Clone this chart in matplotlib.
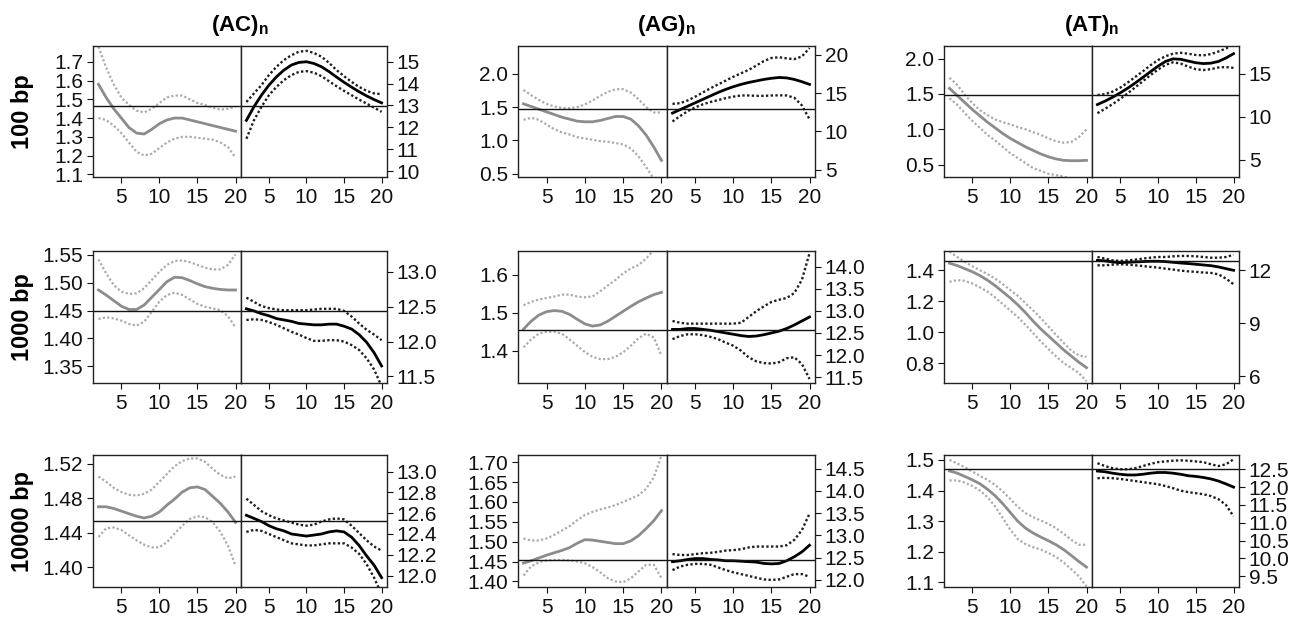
"""
Smoothed effects of repeat length on two responses, 3x3 grid of split panels
"""

import numpy as np
import matplotlib.pyplot as plt

plt.rcParams["font.family"] = ["Liberation Sans", "DejaVu Sans"]
plt.rcParams["mathtext.fontset"] = "custom"
plt.rcParams["mathtext.bf"] = "Liberation Sans:bold"

# repeat length (x axis of both halves)
x = np.arange(2, 21)

motifs = ["AC", "AG", "AT"]
windows = ["100 bp", "1000 bp", "10000 bp"]

# ---------------- (AC)n, 100 bp ----------------
ac100_gray_mid = [1.58, 1.51, 1.45, 1.40, 1.35, 1.32, 1.315, 1.34, 1.37, 1.39, 1.40, 1.40, 1.39, 1.38, 1.37, 1.36, 1.35, 1.34, 1.33]
ac100_gray_hi = [1.78, 1.67, 1.58, 1.51, 1.47, 1.44, 1.43, 1.45, 1.48, 1.51, 1.52, 1.52, 1.50, 1.48, 1.47, 1.455, 1.445, 1.45, 1.46]
ac100_gray_lo = [1.40, 1.39, 1.36, 1.32, 1.27, 1.22, 1.20, 1.21, 1.24, 1.27, 1.29, 1.30, 1.30, 1.295, 1.29, 1.285, 1.27, 1.245, 1.19]
ac100_black_mid = [12.32, 12.94, 13.47, 13.93, 14.31, 14.62, 14.85, 14.97, 15.0, 14.92, 14.77, 14.55, 14.30, 14.06, 13.84, 13.63, 13.44, 13.27, 13.12]
ac100_black_hi = [13.16, 13.55, 13.93, 14.39, 14.77, 15.08, 15.3, 15.46, 15.5, 15.4, 15.23, 14.95, 14.62, 14.34, 14.08, 13.85, 13.67, 13.55, 13.52]
ac100_black_lo = [11.48, 12.32, 12.94, 13.47, 13.85, 14.16, 14.39, 14.54, 14.57, 14.5, 14.34, 14.11, 13.88, 13.67, 13.47, 13.27, 13.09, 12.9, 12.71]

# ---------------- (AG)n, 100 bp ----------------
ag100_gray_mid = [1.55, 1.51, 1.47, 1.43, 1.39, 1.35, 1.32, 1.29, 1.28, 1.28, 1.30, 1.33, 1.36, 1.36, 1.32, 1.22, 1.08, 0.90, 0.70]
ag100_gray_hi = [1.76, 1.68, 1.61, 1.55, 1.51, 1.49, 1.485, 1.50, 1.54, 1.60, 1.67, 1.73, 1.77, 1.77, 1.72, 1.62, 1.50, 1.42, 1.42]
ag100_gray_lo = [1.31, 1.34, 1.31, 1.24, 1.17, 1.12, 1.09, 1.05, 1.03, 1.01, 0.99, 0.98, 0.96, 0.94, 0.88, 0.76, 0.60, 0.42, 0.20]
ag100_black_mid = [12.4, 12.85, 13.3, 13.75, 14.2, 14.65, 15.1, 15.5, 15.85, 16.15, 16.4, 16.6, 16.8, 16.95, 17.05, 17.0, 16.8, 16.5, 16.15]
ag100_black_hi = [13.6, 13.7, 14.05, 14.55, 15.1, 15.65, 16.15, 16.65, 17.15, 17.6, 18.05, 18.6, 19.2, 19.6, 19.7, 19.55, 19.45, 19.8, 20.9]
ag100_black_lo = [11.3, 12.0, 12.65, 13.15, 13.55, 13.85, 14.1, 14.35, 14.55, 14.7, 14.7, 14.65, 14.65, 14.7, 14.72, 14.7, 14.4, 13.4, 11.6]

# ---------------- (AT)n, 100 bp ----------------
at100_gray_mid = [1.58, 1.48, 1.38, 1.28, 1.19, 1.10, 1.02, 0.94, 0.87, 0.81, 0.75, 0.70, 0.65, 0.61, 0.58, 0.56, 0.555, 0.555, 0.56]
at100_gray_hi = [1.73, 1.63, 1.49, 1.37, 1.27, 1.20, 1.14, 1.10, 1.07, 1.03, 1.00, 0.96, 0.92, 0.87, 0.83, 0.81, 0.82, 0.89, 1.00]
at100_gray_lo = [1.44, 1.35, 1.23, 1.12, 1.02, 0.92, 0.84, 0.75, 0.66, 0.59, 0.52, 0.45, 0.41, 0.37, 0.35, 0.33, 0.30, 0.28, 0.26]
at100_black_mid = [11.4, 11.8, 12.25, 12.75, 13.3, 13.9, 14.55, 15.2, 15.85, 16.4, 16.7, 16.65, 16.45, 16.25, 16.15, 16.2, 16.4, 16.8, 17.3]
at100_black_hi = [12.5, 12.6, 12.9, 13.35, 13.95, 14.6, 15.25, 15.95, 16.55, 17.0, 17.3, 17.4, 17.3, 17.15, 17.1, 17.25, 17.55, 17.9, 18.4]
at100_black_lo = [10.4, 10.9, 11.45, 12.05, 12.7, 13.4, 14.1, 14.8, 15.45, 16.0, 16.3, 16.15, 15.8, 15.5, 15.4, 15.5, 15.7, 15.75, 15.65]

# ---------------- (AC)n, 1000 bp ----------------
ac1k_gray_mid = [1.487, 1.478, 1.468, 1.458, 1.452, 1.452, 1.460, 1.474, 1.488, 1.502, 1.510, 1.509, 1.504, 1.498, 1.493, 1.490, 1.488, 1.487, 1.487]
ac1k_gray_hi = [1.542, 1.517, 1.496, 1.484, 1.480, 1.481, 1.490, 1.505, 1.520, 1.532, 1.539, 1.540, 1.537, 1.532, 1.527, 1.524, 1.524, 1.532, 1.551]
ac1k_gray_lo = [1.435, 1.438, 1.436, 1.432, 1.426, 1.423, 1.430, 1.448, 1.466, 1.478, 1.482, 1.478, 1.470, 1.462, 1.457, 1.454, 1.451, 1.440, 1.420]
ac1k_black_mid = [12.47, 12.44, 12.40, 12.37, 12.33, 12.31, 12.29, 12.26, 12.25, 12.24, 12.24, 12.25, 12.25, 12.22, 12.18, 12.10, 11.99, 11.84, 11.65]
ac1k_black_hi = [12.63, 12.57, 12.51, 12.48, 12.46, 12.45, 12.45, 12.45, 12.45, 12.46, 12.47, 12.47, 12.47, 12.44, 12.36, 12.26, 12.17, 12.10, 12.02]
ac1k_black_lo = [12.31, 12.32, 12.31, 12.28, 12.24, 12.19, 12.14, 12.10, 12.05, 12.01, 12.01, 12.02, 12.02, 12.00, 11.95, 11.88, 11.76, 11.60, 11.36]

# ---------------- (AG)n, 1000 bp ----------------
ag1k_gray_mid = [1.457, 1.478, 1.494, 1.503, 1.506, 1.504, 1.496, 1.483, 1.471, 1.465, 1.468, 1.478, 1.491, 1.504, 1.517, 1.529, 1.539, 1.548, 1.554]
ag1k_gray_hi = [1.520, 1.529, 1.535, 1.539, 1.543, 1.548, 1.548, 1.543, 1.541, 1.543, 1.557, 1.572, 1.587, 1.604, 1.617, 1.626, 1.643, 1.665, 1.687]
ag1k_gray_lo = [1.409, 1.430, 1.445, 1.450, 1.450, 1.445, 1.430, 1.413, 1.397, 1.384, 1.378, 1.378, 1.384, 1.396, 1.413, 1.433, 1.445, 1.435, 1.387]
ag1k_black_mid = [12.58, 12.58, 12.60, 12.60, 12.58, 12.56, 12.53, 12.50, 12.47, 12.44, 12.42, 12.43, 12.46, 12.50, 12.54, 12.60, 12.68, 12.77, 12.86]
ag1k_black_hi = [12.77, 12.73, 12.71, 12.71, 12.71, 12.71, 12.71, 12.71, 12.71, 12.73, 12.86, 12.99, 13.10, 13.20, 13.25, 13.29, 13.40, 13.70, 14.30]
ag1k_black_lo = [12.36, 12.43, 12.47, 12.47, 12.45, 12.41, 12.36, 12.28, 12.21, 12.10, 11.95, 11.86, 11.82, 11.81, 11.84, 11.93, 11.95, 11.80, 11.46]

# ---------------- (AT)n, 1000 bp ----------------
at1k_gray_mid = [1.445, 1.43, 1.41, 1.39, 1.365, 1.335, 1.30, 1.26, 1.22, 1.175, 1.125, 1.07, 1.02, 0.975, 0.93, 0.885, 0.845, 0.805, 0.77]
at1k_gray_hi = [1.52, 1.486, 1.454, 1.426, 1.40, 1.374, 1.346, 1.31, 1.271, 1.233, 1.186, 1.139, 1.09, 1.036, 0.982, 0.93, 0.88, 0.85, 0.84]
at1k_gray_lo = [1.325, 1.336, 1.331, 1.314, 1.289, 1.261, 1.224, 1.181, 1.139, 1.096, 1.046, 0.993, 0.939, 0.89, 0.843, 0.80, 0.768, 0.736, 0.682]
at1k_black_mid = [12.56, 12.53, 12.47, 12.43, 12.45, 12.47, 12.49, 12.51, 12.51, 12.49, 12.45, 12.41, 12.38, 12.34, 12.30, 12.26, 12.19, 12.09, 12.00]
at1k_black_hi = [12.75, 12.66, 12.56, 12.53, 12.56, 12.60, 12.66, 12.71, 12.75, 12.75, 12.79, 12.81, 12.81, 12.79, 12.75, 12.71, 12.71, 12.75, 12.88]
at1k_black_lo = [12.28, 12.28, 12.32, 12.34, 12.32, 12.28, 12.24, 12.19, 12.15, 12.09, 12.04, 11.98, 11.94, 11.91, 11.87, 11.85, 11.77, 11.53, 11.21]

# ---------------- (AC)n, 10000 bp ----------------
ac10k_gray_mid = [1.470, 1.470, 1.468, 1.465, 1.462, 1.459, 1.457, 1.459, 1.464, 1.472, 1.479, 1.487, 1.492, 1.493, 1.490, 1.482, 1.474, 1.464, 1.452]
ac10k_gray_hi = [1.505, 1.499, 1.492, 1.487, 1.484, 1.483, 1.485, 1.490, 1.499, 1.508, 1.517, 1.523, 1.526, 1.526, 1.522, 1.514, 1.507, 1.503, 1.505]
ac10k_gray_lo = [1.435, 1.445, 1.446, 1.443, 1.437, 1.431, 1.426, 1.423, 1.423, 1.429, 1.439, 1.448, 1.456, 1.459, 1.458, 1.452, 1.441, 1.425, 1.402]
ac10k_black_mid = [12.58, 12.55, 12.52, 12.48, 12.45, 12.43, 12.40, 12.39, 12.38, 12.39, 12.40, 12.42, 12.43, 12.42, 12.37, 12.29, 12.19, 12.10, 11.98]
ac10k_black_hi = [12.74, 12.68, 12.62, 12.58, 12.55, 12.53, 12.51, 12.49, 12.48, 12.49, 12.52, 12.54, 12.55, 12.54, 12.48, 12.41, 12.34, 12.28, 12.24]
ac10k_black_lo = [12.42, 12.44, 12.43, 12.40, 12.37, 12.34, 12.31, 12.30, 12.29, 12.29, 12.30, 12.31, 12.31, 12.31, 12.27, 12.21, 12.11, 11.98, 11.82]

# ---------------- (AG)n, 10000 bp ----------------
ag10k_gray_mid = [1.446, 1.452, 1.459, 1.466, 1.472, 1.478, 1.485, 1.496, 1.505, 1.504, 1.501, 1.498, 1.495, 1.495, 1.502, 1.515, 1.533, 1.553, 1.578]
ag10k_gray_hi = [1.508, 1.503, 1.503, 1.508, 1.517, 1.528, 1.539, 1.554, 1.567, 1.575, 1.581, 1.586, 1.592, 1.600, 1.608, 1.617, 1.633, 1.662, 1.717]
ag10k_gray_lo = [1.415, 1.438, 1.448, 1.453, 1.454, 1.454, 1.453, 1.450, 1.446, 1.436, 1.423, 1.408, 1.400, 1.398, 1.408, 1.425, 1.442, 1.442, 1.408]
ag10k_black_mid = [12.41, 12.43, 12.46, 12.48, 12.48, 12.46, 12.45, 12.43, 12.43, 12.42, 12.41, 12.40, 12.37, 12.36, 12.37, 12.43, 12.52, 12.63, 12.78]
ag10k_black_hi = [12.58, 12.56, 12.56, 12.58, 12.60, 12.61, 12.63, 12.66, 12.67, 12.69, 12.73, 12.75, 12.75, 12.75, 12.75, 12.78, 12.90, 13.12, 13.49]
ag10k_black_lo = [12.22, 12.30, 12.34, 12.36, 12.36, 12.34, 12.28, 12.22, 12.17, 12.13, 12.09, 12.05, 12.01, 12.00, 12.01, 12.07, 12.13, 12.13, 12.07]

# ---------------- (AT)n, 10000 bp ----------------
at10k_gray_mid = [1.464, 1.457, 1.446, 1.435, 1.422, 1.404, 1.383, 1.357, 1.328, 1.299, 1.277, 1.261, 1.248, 1.236, 1.223, 1.207, 1.188, 1.168, 1.150]
at10k_gray_hi = [1.500, 1.489, 1.476, 1.462, 1.448, 1.435, 1.418, 1.397, 1.372, 1.346, 1.326, 1.313, 1.302, 1.291, 1.277, 1.259, 1.239, 1.223, 1.223]
at10k_gray_lo = [1.433, 1.433, 1.426, 1.415, 1.400, 1.378, 1.348, 1.310, 1.272, 1.241, 1.225, 1.215, 1.207, 1.196, 1.183, 1.165, 1.143, 1.120, 1.087]
at10k_black_mid = [12.45, 12.43, 12.39, 12.36, 12.34, 12.34, 12.36, 12.39, 12.41, 12.41, 12.39, 12.36, 12.32, 12.30, 12.27, 12.23, 12.17, 12.09, 12.00]
at10k_black_hi = [12.67, 12.59, 12.53, 12.50, 12.50, 12.53, 12.59, 12.65, 12.70, 12.72, 12.74, 12.75, 12.74, 12.72, 12.70, 12.64, 12.59, 12.64, 12.78]
at10k_black_lo = [12.25, 12.26, 12.25, 12.23, 12.20, 12.17, 12.14, 12.11, 12.08, 12.03, 11.97, 11.90, 11.86, 11.83, 11.80, 11.75, 11.66, 11.50, 11.18]

# reference level (left-axis units) drawn across each panel
ref_levels = [
    [1.463, 1.47, 1.48],
    [1.45, 1.455, 1.458],
    [1.453, 1.454, 1.471],
]

# axis ranges
left_ylims = [
    [(1.086, 1.784), (0.45, 2.42), (0.324, 2.18)],
    [(1.320, 1.557), (1.315, 1.663), (0.671, 1.524)],
    [(1.377, 1.530), (1.386, 1.718), (1.085, 1.516)],
]
right_ylims = [
    [(9.73, 15.72), (4.04, 21.17), (3.0, 18.19)],
    [(11.405, 13.3), (11.37, 14.35), (5.62, 13.09)],
    [(11.89, 13.16), (11.84, 14.81), (9.2, 12.9)],
]

# tick labels
left_ticks = [
    [["1.1", "1.2", "1.3", "1.4", "1.5", "1.6", "1.7"], ["0.5", "1.0", "1.5", "2.0"], ["0.5", "1.0", "1.5", "2.0"]],
    [["1.35", "1.40", "1.45", "1.50", "1.55"], ["1.4", "1.5", "1.6"], ["0.8", "1.0", "1.2", "1.4"]],
    [["1.40", "1.44", "1.48", "1.52"], ["1.40", "1.45", "1.50", "1.55", "1.60", "1.65", "1.70"], ["1.1", "1.2", "1.3", "1.4", "1.5"]],
]
right_ticks = [
    [["10", "11", "12", "13", "14", "15"], ["5", "10", "15", "20"], ["5", "10", "15"]],
    [["11.5", "12.0", "12.5", "13.0"], ["11.5", "12.0", "12.5", "13.0", "13.5", "14.0"], ["6", "9", "12"]],
    [["12.0", "12.2", "12.4", "12.6", "12.8", "13.0"], ["12.0", "12.5", "13.0", "13.5", "14.0", "14.5"],
     ["9.5", "10.0", "10.5", "11.0", "11.5", "12.0", "12.5"]],
]
x_ticks = [5, 10, 15, 20]

gray_series = [
    [(ac100_gray_mid, ac100_gray_lo, ac100_gray_hi), (ag100_gray_mid, ag100_gray_lo, ag100_gray_hi), (at100_gray_mid, at100_gray_lo, at100_gray_hi)],
    [(ac1k_gray_mid, ac1k_gray_lo, ac1k_gray_hi), (ag1k_gray_mid, ag1k_gray_lo, ag1k_gray_hi), (at1k_gray_mid, at1k_gray_lo, at1k_gray_hi)],
    [(ac10k_gray_mid, ac10k_gray_lo, ac10k_gray_hi), (ag10k_gray_mid, ag10k_gray_lo, ag10k_gray_hi), (at10k_gray_mid, at10k_gray_lo, at10k_gray_hi)],
]
black_series = [
    [(ac100_black_mid, ac100_black_lo, ac100_black_hi), (ag100_black_mid, ag100_black_lo, ag100_black_hi), (at100_black_mid, at100_black_lo, at100_black_hi)],
    [(ac1k_black_mid, ac1k_black_lo, ac1k_black_hi), (ag1k_black_mid, ag1k_black_lo, ag1k_black_hi), (at1k_black_mid, at1k_black_lo, at1k_black_hi)],
    [(ac10k_black_mid, ac10k_black_lo, ac10k_black_hi), (ag10k_black_mid, ag10k_black_lo, ag10k_black_hi), (at10k_black_mid, at10k_black_lo, at10k_black_hi)],
]

# layout in pixels (left edge, divider, right edge) / (top, bottom)
W, H = 1301, 617
col_px = [(93, 241, 387), (518, 667, 815), (944, 1092, 1239)]
row_px = [(46, 177), (251, 383), (455, 587)]

GRAY_MID = "#8c8c8c"
GRAY_CI = "#ababab"
BLACK_CI = "#1e1e1e"
DOTS = (0, (1, 1))
TICK_FS = 15


def style_half(ax, side):
    for sp in ax.spines.values():
        sp.set_linewidth(1.0)
        sp.set_color("#222222")
    ax.set_xlim(1.28, 20.72)
    ax.set_xticks(x_ticks)
    ax.tick_params(axis="both", direction="out", length=4, width=0.8,
                   labelsize=TICK_FS, colors="#111111")
    ax.tick_params(axis="x", pad=4)
    ax.tick_params(axis="y", pad=3)
    if side == "right":
        ax.yaxis.tick_right()


def draw_panel(ax_l, ax_r, gray, black, ylim_l, ylim_r, ticks_l, ticks_r, ref):
    mid, lo, hi = gray
    ax_l.plot(x, lo, color=GRAY_CI, lw=1.6, ls=DOTS)
    ax_l.plot(x, hi, color=GRAY_CI, lw=1.6, ls=DOTS)
    ax_l.plot(x, mid, color=GRAY_MID, lw=2.0)

    mid, lo, hi = black
    ax_r.plot(x, lo, color=BLACK_CI, lw=1.7, ls=DOTS)
    ax_r.plot(x, hi, color=BLACK_CI, lw=1.7, ls=DOTS)
    ax_r.plot(x, mid, color="black", lw=2.0)

    ax_l.set_ylim(*ylim_l)
    ax_r.set_ylim(*ylim_r)
    ax_l.set_yticks([float(t) for t in ticks_l], ticks_l)
    ax_r.set_yticks([float(t) for t in ticks_r], ticks_r)

    # same reference level through both halves
    frac = (ref - ylim_l[0]) / (ylim_l[1] - ylim_l[0])
    ax_l.axhline(ref, color="#111111", lw=1.0)
    ax_r.axhline(ylim_r[0] + frac * (ylim_r[1] - ylim_r[0]), color="#111111", lw=1.0)


fig = plt.figure(figsize=(W / 100, H / 100), dpi=100)

for r, (top, bot) in enumerate(row_px):
    for c, (left, mid_px, right) in enumerate(col_px):
        y0 = 1 - bot / H
        h = (bot - top) / H
        ax_l = fig.add_axes([left / W, y0, (mid_px - left) / W, h])
        ax_r = fig.add_axes([mid_px / W, y0, (right - mid_px) / W, h])
        style_half(ax_l, "left")
        style_half(ax_r, "right")
        draw_panel(ax_l, ax_r, gray_series[r][c], black_series[r][c],
                   left_ylims[r][c], right_ylims[r][c],
                   left_ticks[r][c], right_ticks[r][c], ref_levels[r][c])

# column titles
for c, (left, mid_px, right) in enumerate(col_px):
    fig.text((left + right) / 2 / W, 1 - 25 / H, r"$\mathbf{(%s)_n}$" % motifs[c],
             ha="center", va="center", fontsize=16)

# row labels
for r, (top, bot) in enumerate(row_px):
    fig.text(23 / W, 1 - (top + bot) / 2 / H, windows[r], rotation=90,
             ha="center", va="center", fontsize=17, fontweight="bold")

fig.savefig("out.png", dpi=100)
